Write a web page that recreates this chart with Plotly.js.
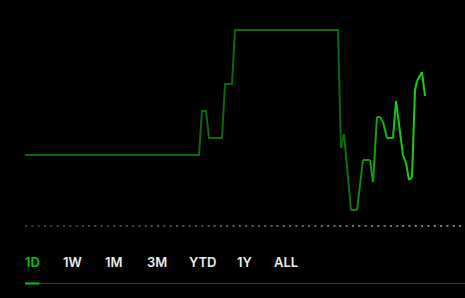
<!DOCTYPE html>
<html>
<head>
<meta charset="utf-8">
<script src="https://cdn.plot.ly/plotly-3.0.1.min.js"></script>
<style>html,body{margin:0;padding:0;background:#000;}#chart{width:465px;height:298px;}</style>
</head>
<body>
<div id="chart"></div>
<script>
// ---- data ----
const times  = [0,174,177,181,184,197,200,207,210,313,316,319,326,332,338,345,348,352,355,358,362,368,371,378,381,384,387,390,392,397,400];
const prices = [24.71,24.71,25.15,25.15,24.88,24.88,25.42,25.42,25.96,25.96,24.78,24.92,24.16,24.16,24.66,24.66,24.44,25.09,25.09,25.04,24.88,24.88,25.25,24.71,24.63,24.46,24.49,25.36,25.45,25.54,25.30];
const prevClose = 24.00;
const rangeLabels = ['1D','1W','1M','3M','YTD','1Y','ALL'];
const activeRange = '1D';

// ---- styles ----
const W = 465, H = 298;
const dark = [12,104,12], bright = [22,206,22];
const fadeStart = 316, fadeEnd = 376;
const labelLeft = [25,63,105,147,189,237,274];

function mix(t){
  let f = (t - fadeStart) / (fadeEnd - fadeStart);
  f = Math.max(0, Math.min(1, f));
  const c = dark.map((d,i)=>Math.round(d + (bright[i]-d)*f));
  return 'rgb(' + c.join(',') + ')';
}

const traces = [];
// dark part as one trace
let splitIdx = times.findIndex(t => t >= fadeStart);
traces.push({x: times.slice(0, splitIdx+1), y: prices.slice(0, splitIdx+1), mode:'lines', line:{color:mix(0), width:2}, hoverinfo:'skip'});
for (let i = splitIdx; i < times.length-1; i++) {
  const tm = (times[i]+times[i+1])/2;
  traces.push({x:[times[i],times[i+1]], y:[prices[i],prices[i+1]], mode:'lines', line:{color:mix(tm), width:2}, hoverinfo:'skip'});
}

// dotted previous close line, in gradient pieces
const shapes = [];
const dotGrays = ['#3e3e3e','#474747','#525252','#5e5e5e','#6a6a6a','#777777','#838383'];
const x0 = 25/W;
for (let k = 0; k < dotGrays.length; k++) {
  const a = x0 + (1-x0)*k/dotGrays.length;
  const b = x0 + (1-x0)*(k+1)/dotGrays.length;
  shapes.push({type:'line', xref:'paper', yref:'y', x0:a, x1:b, y0:prevClose, y1:prevClose,
    line:{color:dotGrays[k], width:2, dash:'2px,4.33px'}});
}
// underline bar
const yLine = 1 - 283.5/H;
shapes.push({type:'line', xref:'paper', yref:'paper', x0:39.5/W, x1:1, y0:yLine, y1:yLine, line:{color:'#3a3a3a', width:1}});
shapes.push({type:'line', xref:'paper', yref:'paper', x0:25/W, x1:39.5/W, y0:yLine, y1:yLine, line:{color:'#00c805', width:2}});

const annotations = rangeLabels.map((lab, i) => ({
  text: lab, xref:'paper', yref:'paper', x:(labelLeft[i]-2)/W, y:1-261.5/H,
  xanchor:'left', yanchor:'middle', showarrow:false,
  font:{family:'Inter, "Open Sans", sans-serif', size:13, weight:600, color: lab===activeRange ? '#00c805' : '#ececec'}
}));

const layout = {
  width: W, height: H,
  margin:{l:0,r:0,t:0,b:0,pad:0},
  paper_bgcolor:'#000', plot_bgcolor:'#000',
  showlegend:false,
  xaxis:{range:[-25,440], visible:false, fixedrange:true},
  yaxis:{range:[23.28,26.26], visible:false, fixedrange:true},
  shapes: shapes,
  annotations: annotations
};

Plotly.newPlot('chart', traces, layout, {displayModeBar:false, staticPlot:true});
</script>
</body>
</html>
